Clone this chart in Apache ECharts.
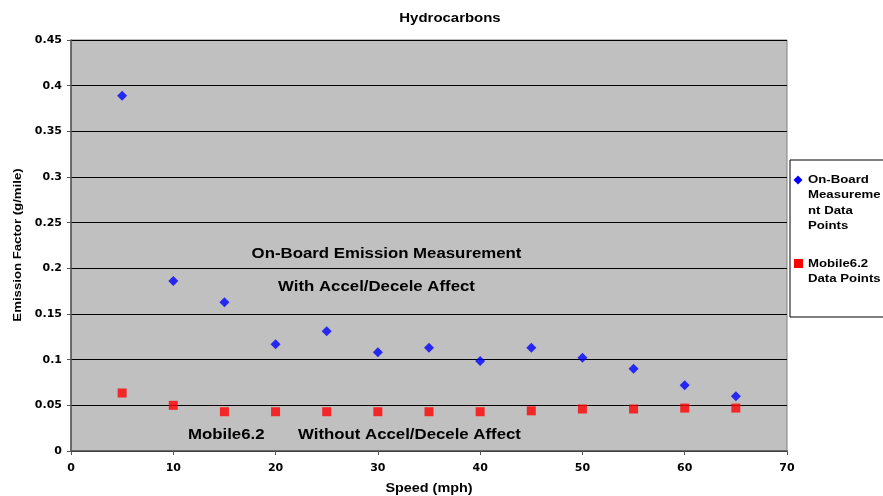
<!DOCTYPE html>
<html>
<head>
<meta charset="utf-8">
<script src="https://cdn.jsdelivr.net/npm/echarts@6/dist/echarts.min.js"></script>
<style>
  html, body { margin: 0; padding: 0; background: #fff; }
  #chart { width: 883px; height: 496px; }
</style>
</head>
<body>
<div id="chart"></div>
<script>
// Speed bins (mph)
const speeds = [5, 10, 15, 20, 25, 30, 35, 40, 45, 50, 55, 60, 65];
// On-board measured hydrocarbon emission factors (g/mile)
const onBoard = [0.389, 0.186, 0.163, 0.117, 0.131, 0.108, 0.113, 0.0985, 0.113, 0.102, 0.090, 0.072, 0.060];
// MOBILE6.2 model emission factors (g/mile)
const mobile62 = [0.0635, 0.050, 0.043, 0.043, 0.043, 0.043, 0.043, 0.043, 0.044, 0.046, 0.046, 0.047, 0.047];

const seriesNames = ['On-Board Measurement Data Points', 'Mobile6.2 Data Points'];
const legendLines = [
  ['On-Board', 'Measureme', 'nt Data', 'Points'],
  ['Mobile6.2', 'Data Points']
];

const font = "'Liberation Sans', Arial, sans-serif";
const tickFont = "'DejaVu Sans', sans-serif";
const WIDE = 1.2; // horizontal stretch for bold labels

// Horizontally stretched bold text element
function label(text, x, y, size, opts) {
  opts = opts || {};
  return {
    type: 'text', x: x, y: y, z: 10,
    scaleX: opts.scale || WIDE,
    rotation: opts.rotation || 0,
    style: {
      text: text, x: 0, y: 0,
      fontFamily: font, fontSize: size, fontWeight: 'bold', fill: '#000',
      align: opts.align || 'left', verticalAlign: 'middle'
    }
  };
}

const graphics = [
  // chart title and axis titles
  label('Hydrocarbons', 450, 18, 13, { align: 'center', scale: 1.15 }),
  label('Speed (mph)', 429, 489, 12, { align: 'center' }),
  label('Emission Factor (g/mile)', 18, 245, 11, { align: 'center', rotation: Math.PI / 2 }),
  // annotations inside the plot
  label('On-Board Emission Measurement', 386.5, 254, 14, { align: 'center' }),
  label('With Accel/Decele Affect', 376.5, 287, 14, { align: 'center' }),
  label('Mobile6.2', 188, 435, 14),
  label('Without Accel/Decele Affect', 298, 435, 14),
  // legend frame
  {
    type: 'rect', z: 5, x: 790, y: 160,
    shape: { width: 100, height: 157 },
    style: { fill: '#fff', stroke: '#000', lineWidth: 1 }
  },
  // legend keys
  {
    type: 'polygon', z: 11,
    shape: { points: [[798, 175.5], [802.5, 180], [798, 184.5], [793.5, 180]] },
    style: { fill: '#0000ff' }
  },
  {
    type: 'rect', z: 11, x: 794, y: 259,
    shape: { width: 9, height: 9 },
    style: { fill: '#ff0000' }
  }
];
legendLines[0].forEach((t, i) => graphics.push(label(t, 808, 180 + i * 15.3, 11)));
legendLines[1].forEach((t, i) => graphics.push(label(t, 808, 264 + i * 15.3, 11)));

const chart = echarts.init(document.getElementById('chart'));

chart.setOption({
  animation: false,
  backgroundColor: '#ffffff',
  grid: {
    left: 71, right: 96, top: 40, bottom: 45,
    outerBoundsMode: 'none', containLabel: false,
    show: true, backgroundColor: '#c0c0c0', borderColor: '#808080', borderWidth: 1
  },
  xAxis: {
    type: 'value', min: 0, max: 70, interval: 10,
    axisLine: { show: true, onZero: false, lineStyle: { color: '#555', width: 1.5 } },
    axisTick: { show: true, length: 4, lineStyle: { color: '#555' } },
    axisLabel: { fontFamily: tickFont, fontSize: 11, fontWeight: 'bold', color: '#000', margin: 12 },
    splitLine: { show: false }
  },
  yAxis: {
    type: 'value', min: 0, max: 0.45, interval: 0.05,
    axisLine: { show: true, lineStyle: { color: '#555', width: 1.5 } },
    axisTick: { show: true, length: 4, lineStyle: { color: '#555' } },
    axisLabel: {
      fontFamily: tickFont, fontSize: 11, fontWeight: 'bold', color: '#000', margin: 9,
      formatter: v => String(Math.round(v * 100) / 100)
    },
    splitLine: { show: true, lineStyle: { color: '#000', width: 1 } }
  },
  graphic: graphics,
  series: [
    {
      name: seriesNames[0], type: 'scatter', symbol: 'diamond', symbolSize: 10,
      itemStyle: { color: '#0000ff' },
      data: speeds.map((s, i) => [s, onBoard[i]])
    },
    {
      name: seriesNames[1], type: 'scatter', symbol: 'rect', symbolSize: 9,
      itemStyle: { color: '#ff0000' },
      data: speeds.map((s, i) => [s, mobile62[i]])
    }
  ]
});
</script>
</body>
</html>
